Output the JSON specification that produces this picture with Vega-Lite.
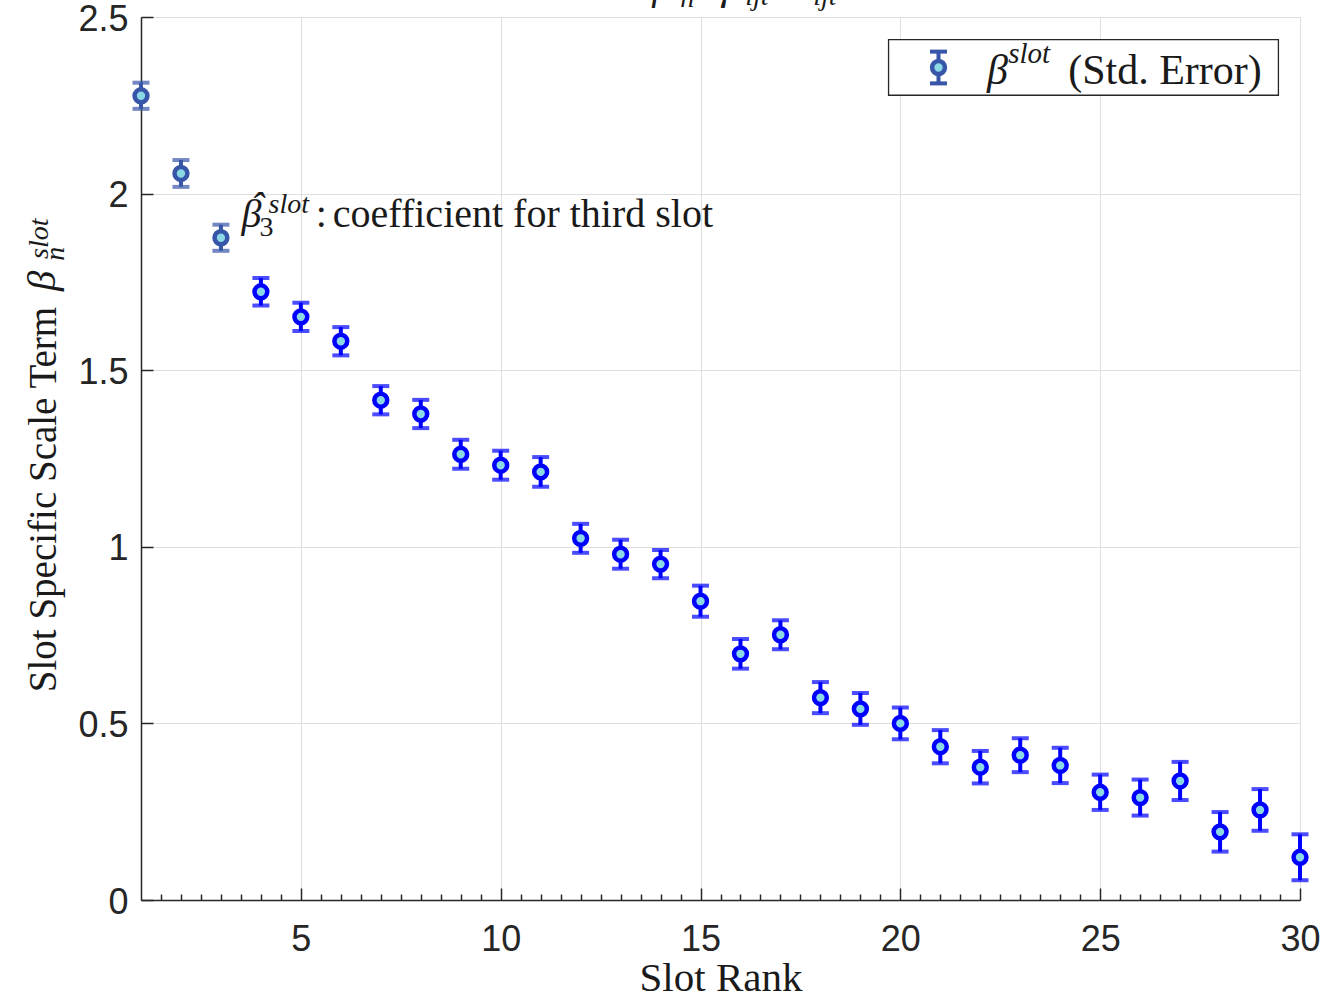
{
  "$schema": "https://vega.github.io/schema/vega-lite/v6.json",
  "autosize": {"type": "none"},
  "padding": {"left": 141, "top": 17, "right": 37, "bottom": 94},
  "width": 1159,
  "height": 883,
  "background": "white",
  "config": {
    "view": {"stroke": null},
    "text": {"font": "Liberation Serif", "color": "#1a1a1a", "baseline": "alphabetic", "align": "left"},
    "errorbar": {"thickness": 4, "ticks": {"size": 17, "thickness": 4}, "rule": {"strokeWidth": 4}}
  },
  "resolve": {"axis": {"x": "independent"}},
  "data": {
    "values": [
      {"rank": 1, "beta": 2.277, "se": 0.037, "grp": "first three"},
      {"rank": 2, "beta": 2.057, "se": 0.038, "grp": "first three"},
      {"rank": 3, "beta": 1.875, "se": 0.037, "grp": "first three"},
      {"rank": 4, "beta": 1.722, "se": 0.039, "grp": "other"},
      {"rank": 5, "beta": 1.651, "se": 0.040, "grp": "other"},
      {"rank": 6, "beta": 1.582, "se": 0.040, "grp": "other"},
      {"rank": 7, "beta": 1.415, "se": 0.040, "grp": "other"},
      {"rank": 8, "beta": 1.376, "se": 0.040, "grp": "other"},
      {"rank": 9, "beta": 1.262, "se": 0.041, "grp": "other"},
      {"rank": 10, "beta": 1.231, "se": 0.041, "grp": "other"},
      {"rank": 11, "beta": 1.212, "se": 0.042, "grp": "other"},
      {"rank": 12, "beta": 1.024, "se": 0.041, "grp": "other"},
      {"rank": 13, "beta": 0.979, "se": 0.041, "grp": "other"},
      {"rank": 14, "beta": 0.951, "se": 0.040, "grp": "other"},
      {"rank": 15, "beta": 0.846, "se": 0.044, "grp": "other"},
      {"rank": 16, "beta": 0.697, "se": 0.042, "grp": "other"},
      {"rank": 17, "beta": 0.751, "se": 0.041, "grp": "other"},
      {"rank": 18, "beta": 0.573, "se": 0.044, "grp": "other"},
      {"rank": 19, "beta": 0.541, "se": 0.045, "grp": "other"},
      {"rank": 20, "beta": 0.500, "se": 0.045, "grp": "other"},
      {"rank": 21, "beta": 0.434, "se": 0.047, "grp": "other"},
      {"rank": 22, "beta": 0.376, "se": 0.046, "grp": "other"},
      {"rank": 23, "beta": 0.410, "se": 0.048, "grp": "other"},
      {"rank": 24, "beta": 0.381, "se": 0.050, "grp": "other"},
      {"rank": 25, "beta": 0.305, "se": 0.050, "grp": "other"},
      {"rank": 26, "beta": 0.290, "se": 0.051, "grp": "other"},
      {"rank": 27, "beta": 0.337, "se": 0.054, "grp": "other"},
      {"rank": 28, "beta": 0.193, "se": 0.056, "grp": "other"},
      {"rank": 29, "beta": 0.255, "se": 0.059, "grp": "other"},
      {"rank": 30, "beta": 0.121, "se": 0.065, "grp": "other"}
    ]
  },
  "layer": [
    {
      "mark": {"type": "errorbar", "ticks": {"size": 17, "thickness": 4}, "rule": {"strokeWidth": 4}, "thickness": 4},
      "encoding": {
        "x": {
          "field": "rank", "type": "quantitative",
          "scale": {"domain": [1, 30], "nice": false, "zero": false},
          "axis": {
            "orient": "bottom",
            "title": "Slot Rank",
            "values": [5, 10, 15, 20, 25, 30],
            "format": "d",
            "labelFont": "Liberation Sans", "labelFontSize": 36, "labelColor": "#262626",
            "labelPadding": 34, "labelBaseline": "top", "labelOverlap": false, "labelFlush": false, "labelBound": false,
            "tickSize": -12, "tickColor": "#262626", "tickWidth": 1.5,
            "domainColor": "#262626", "domainWidth": 1.5,
            "grid": true, "gridColor": "#dedede",
            "titleFont": "Liberation Serif", "titleFontSize": 41, "titleFontWeight": "normal", "titleColor": "#1a1a1a",
            "titleBaseline": "alphabetic", "titleY": 90
          }
        },
        "y": {
          "field": "beta", "type": "quantitative",
          "scale": {"domain": [0, 2.5], "nice": false, "zero": false},
          "axis": {
            "title": "Slot Specific Scale Term",
            "values": [0, 0.5, 1, 1.5, 2, 2.5],
            "format": "~g",
            "labelFont": "Liberation Sans", "labelFontSize": 36, "labelColor": "#262626",
            "labelPadding": 25, "labelOffset": 2, "labelFlush": false,
            "tickSize": -12, "tickColor": "#262626", "tickWidth": 1.5,
            "domainColor": "#262626", "domainWidth": 1.5,
            "grid": true, "gridColor": "#dedede",
            "titleFont": "Liberation Serif", "titleFontSize": 39, "titleFontWeight": "normal", "titleColor": "#1a1a1a",
            "titleAngle": 270, "titleAlign": "center", "titleBaseline": "alphabetic",
            "titleX": -86, "titleY": 482
          }
        },
        "yError": {"field": "se"},
        "color": {"field": "grp", "type": "nominal", "scale": {"domain": ["first three", "other"], "range": ["#3756a8", "#0000ff"]}, "legend": null}
      }
    },
    {
      "mark": {"type": "circle", "fill": "#8cd9e6", "strokeWidth": 4.5, "size": 165, "opacity": 1},
      "encoding": {
        "x": {
          "field": "rank", "type": "quantitative",
          "axis": {
            "orient": "bottom", "title": null, "labels": false, "grid": false, "domain": false,
            "values": [1.5, 2, 2.5, 3, 3.5, 4, 4.5, 5.5, 6, 6.5, 7, 7.5, 8, 8.5, 9, 9.5, 10.5, 11, 11.5, 12, 12.5, 13, 13.5, 14, 14.5, 15.5, 16, 16.5, 17, 17.5, 18, 18.5, 19, 19.5, 20.5, 21, 21.5, 22, 22.5, 23, 23.5, 24, 24.5, 25.5, 26, 26.5, 27, 27.5, 28, 28.5, 29, 29.5],
            "tickSize": -6, "tickColor": "#262626", "tickWidth": 1.5
          }
        },
        "y": {"field": "beta", "type": "quantitative"},
        "stroke": {"field": "grp", "type": "nominal", "scale": {"domain": ["first three", "other"], "range": ["#3756a8", "#0000ff"]}, "legend": null}
      }
    },
    {
      "data": {"values": [{}]},
      "mark": {"type": "rect", "fill": "white", "stroke": "#262626", "strokeWidth": 1.3},
      "encoding": {
        "x": {"datum": 19.705, "type": "quantitative", "axis": null},
        "x2": {"datum": 29.46},
        "y": {"datum": 2.436, "type": "quantitative"},
        "y2": {"datum": 2.2785}
      }
    },
    {
      "data": {"values": [{}]},
      "mark": {"type": "rule", "color": "#3756a8", "strokeWidth": 4},
      "encoding": {
        "x": {"datum": 20.955, "type": "quantitative", "axis": null},
        "y": {"datum": 2.312, "type": "quantitative"},
        "y2": {"datum": 2.402}
      }
    },
    {
      "data": {"values": [{}]},
      "mark": {"type": "tick", "orient": "horizontal", "color": "#3756a8", "size": 17, "thickness": 4, "opacity": 1},
      "encoding": {
        "x": {"datum": 20.955, "type": "quantitative", "axis": null},
        "y": {"datum": 2.312, "type": "quantitative"}
      }
    },
    {
      "data": {"values": [{}]},
      "mark": {"type": "tick", "orient": "horizontal", "color": "#3756a8", "size": 17, "thickness": 4, "opacity": 1},
      "encoding": {
        "x": {"datum": 20.955, "type": "quantitative", "axis": null},
        "y": {"datum": 2.402, "type": "quantitative"}
      }
    },
    {
      "data": {"values": [{}]},
      "mark": {"type": "circle", "fill": "#8cd9e6", "stroke": "#3756a8", "strokeWidth": 4.5, "size": 165, "opacity": 1},
      "encoding": {
        "x": {"datum": 20.955, "type": "quantitative", "axis": null},
        "y": {"datum": 2.357, "type": "quantitative"}
      }
    },
    {
      "data": {"values": [{}]},
      "mark": {"type": "text", "text": "β", "fontStyle": "italic", "fontSize": 42},
      "encoding": {"x": {"datum": 22.166, "type": "quantitative", "axis": null}, "y": {"datum": 2.31, "type": "quantitative"}}
    },
    {
      "data": {"values": [{}]},
      "mark": {"type": "text", "text": "slot", "fontStyle": "italic", "fontSize": 29},
      "encoding": {"x": {"datum": 22.7, "type": "quantitative", "axis": null}, "y": {"datum": 2.369, "type": "quantitative"}}
    },
    {
      "data": {"values": [{}]},
      "mark": {"type": "text", "text": "(Std.  Error)", "fontSize": 42},
      "encoding": {"x": {"datum": 24.2, "type": "quantitative", "axis": null}, "y": {"datum": 2.31, "type": "quantitative"}}
    },
    {
      "data": {"values": [{}]},
      "mark": {"type": "text", "text": "β", "fontStyle": "italic", "fontSize": 40},
      "encoding": {"x": {"datum": 3.514, "type": "quantitative", "axis": null}, "y": {"datum": 1.905, "type": "quantitative"}}
    },
    {
      "data": {"values": [{}]},
      "mark": {"type": "text", "text": "ˆ", "fontStyle": "italic", "fontSize": 40},
      "encoding": {"x": {"datum": 3.739, "type": "quantitative", "axis": null}, "y": {"datum": 1.925, "type": "quantitative"}}
    },
    {
      "data": {"values": [{}]},
      "mark": {"type": "text", "text": "3", "fontSize": 28},
      "encoding": {"x": {"datum": 3.964, "type": "quantitative", "axis": null}, "y": {"datum": 1.881, "type": "quantitative"}}
    },
    {
      "data": {"values": [{}]},
      "mark": {"type": "text", "text": "slot", "fontStyle": "italic", "fontSize": 28},
      "encoding": {"x": {"datum": 4.19, "type": "quantitative", "axis": null}, "y": {"datum": 1.945, "type": "quantitative"}}
    },
    {
      "data": {"values": [{}]},
      "mark": {"type": "text", "text": ":", "fontSize": 40},
      "encoding": {"x": {"datum": 5.37, "type": "quantitative", "axis": null}, "y": {"datum": 1.905, "type": "quantitative"}}
    },
    {
      "data": {"values": [{}]},
      "mark": {"type": "text", "text": "coefficient for third slot", "fontSize": 40},
      "encoding": {"x": {"datum": 5.8, "type": "quantitative", "axis": null}, "y": {"datum": 1.905, "type": "quantitative"}}
    },
    {
      "data": {"values": [{}]},
      "mark": {"type": "text", "text": "β", "fontStyle": "italic", "fontSize": 41, "angle": 270},
      "encoding": {"x": {"datum": -1.164, "type": "quantitative", "axis": null}, "y": {"datum": 1.724, "type": "quantitative"}}
    },
    {
      "data": {"values": [{}]},
      "mark": {"type": "text", "text": "slot", "fontStyle": "italic", "fontSize": 28, "angle": 270},
      "encoding": {"x": {"datum": -1.339, "type": "quantitative", "axis": null}, "y": {"datum": 1.815, "type": "quantitative"}}
    },
    {
      "data": {"values": [{}]},
      "mark": {"type": "text", "text": "n", "fontStyle": "italic", "fontSize": 28, "angle": 270},
      "encoding": {"x": {"datum": -0.938, "type": "quantitative", "axis": null}, "y": {"datum": 1.81, "type": "quantitative"}}
    },
    {
      "data": {"values": [{}]},
      "mark": {"type": "text", "text": "β", "fontStyle": "italic", "fontSize": 40},
      "encoding": {"x": {"datum": 13.794, "type": "quantitative", "axis": null}, "y": {"datum": 2.5503, "type": "quantitative"}}
    },
    {
      "data": {"values": [{}]},
      "mark": {"type": "text", "text": "n", "fontStyle": "italic", "fontSize": 28},
      "encoding": {"x": {"datum": 14.494, "type": "quantitative", "axis": null}, "y": {"datum": 2.5276, "type": "quantitative"}}
    },
    {
      "data": {"values": [{}]},
      "mark": {"type": "text", "text": "γ", "fontStyle": "italic", "fontSize": 40},
      "encoding": {"x": {"datum": 15.445, "type": "quantitative", "axis": null}, "y": {"datum": 2.5503, "type": "quantitative"}}
    },
    {
      "data": {"values": [{}]},
      "mark": {"type": "text", "text": "ijt", "fontStyle": "italic", "fontSize": 28},
      "encoding": {"x": {"datum": 16.12, "type": "quantitative", "axis": null}, "y": {"datum": 2.5333, "type": "quantitative"}}
    },
    {
      "data": {"values": [{}]},
      "mark": {"type": "text", "text": "ijt", "fontStyle": "italic", "fontSize": 28},
      "encoding": {"x": {"datum": 17.82, "type": "quantitative", "axis": null}, "y": {"datum": 2.5333, "type": "quantitative"}}
    }
  ]
}
